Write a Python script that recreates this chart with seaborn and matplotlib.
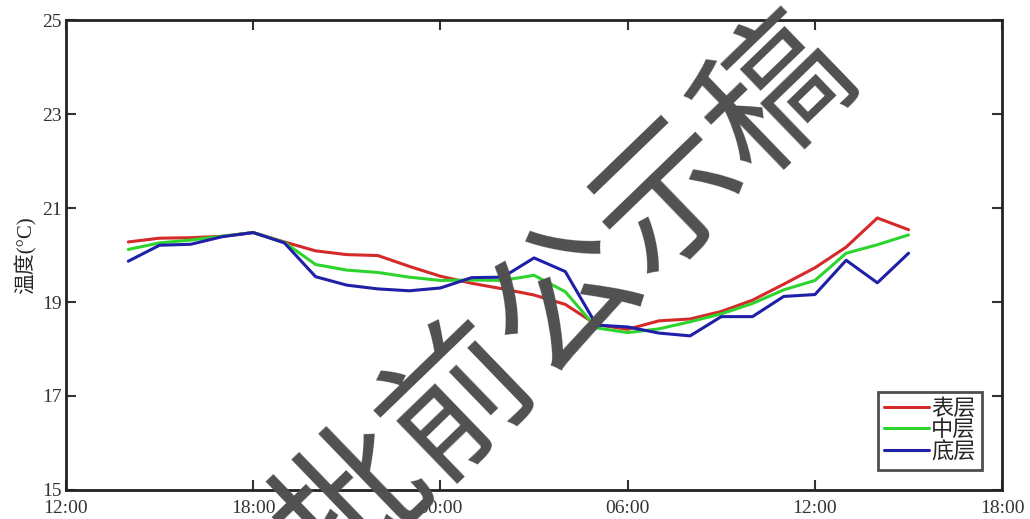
import pandas as pd
import numpy as np
import matplotlib
matplotlib.use("Agg")
import matplotlib.pyplot as plt
import matplotlib.dates as mdates
import seaborn as sns

# hourly observations, 14:00 -> 15:00 next day
times = pd.date_range("2020-01-01 14:00", periods=26, freq="h")
surface = [20.28, 20.36, 20.37, 20.40, 20.48, 20.28, 20.09, 20.01, 19.99, 19.76,
           19.55, 19.40, 19.28, 19.15, 18.95, 18.52, 18.42, 18.60, 18.64, 18.80,
           19.04, 19.38, 19.73, 20.17, 20.79, 20.54]
middle = [20.12, 20.26, 20.32, 20.40, 20.48, 20.27, 19.80, 19.68, 19.63, 19.53,
          19.46, 19.47, 19.46, 19.57, 19.22, 18.45, 18.35, 18.43, 18.58, 18.75,
          18.97, 19.26, 19.46, 20.04, 20.22, 20.43]
bottom = [19.87, 20.21, 20.23, 20.39, 20.48, 20.26, 19.54, 19.36, 19.28, 19.24,
          19.30, 19.52, 19.53, 19.94, 19.65, 18.51, 18.47, 18.34, 18.28, 18.69,
          18.69, 19.12, 19.16, 19.89, 19.41, 20.04]
layers = ["表层", "中层", "底层"]
colors = ["#d42a2a", "#2ed42e", "#1f1fa8"]

df = pd.DataFrame({"time": list(times) * 3,
                   "temp": surface + middle + bottom,
                   "layer": np.repeat(layers, len(times))})

sns.set_theme(style="ticks")
plt.rcParams["font.family"] = ["Liberation Serif", "Noto Sans CJK SC"]

fig = plt.figure(figsize=(10.3, 5.19), dpi=100)
ax = fig.add_axes([0.064, 0.056, 0.909, 0.905])

sns.lineplot(data=df, x="time", y="temp", hue="layer", hue_order=layers,
             palette=colors, linewidth=2.2, ax=ax)

ax.set_ylim(15, 25)
ax.set_yticks([15, 17, 19, 21, 23, 25])
ax.set_xlim(pd.Timestamp("2020-01-01 12:00"), pd.Timestamp("2020-01-02 18:00"))
ax.xaxis.set_major_locator(mdates.HourLocator(byhour=[0, 6, 12, 18]))
ax.xaxis.set_major_formatter(mdates.DateFormatter("%H:%M"))
ax.tick_params(direction="in", length=7, width=1.5, top=True, right=True,
               labelsize=14, colors="#333333")
ax.tick_params(axis="x", pad=7)
ax.tick_params(axis="y", pad=3)
for s in ax.spines.values():
    s.set_linewidth(2)
    s.set_color("#222222")
ax.set_xlabel("")
ax.set_ylabel("温度(°C)", fontsize=15, labelpad=4)

leg = ax.legend(loc="lower right", fontsize=16, frameon=True, fancybox=False,
                edgecolor="#222222", handlelength=2.0, handletextpad=0.1,
                borderpad=0.3, labelspacing=0.05, borderaxespad=0.9)
leg.get_frame().set_linewidth(2)

# watermark
fig.text(0.55, 0.42, "批前公示稿", fontsize=106, color="#505050",
         family=["Noto Sans CJK SC"], rotation=44,
         ha="center", va="center", zorder=10)

fig.savefig("out.png", dpi=100)
